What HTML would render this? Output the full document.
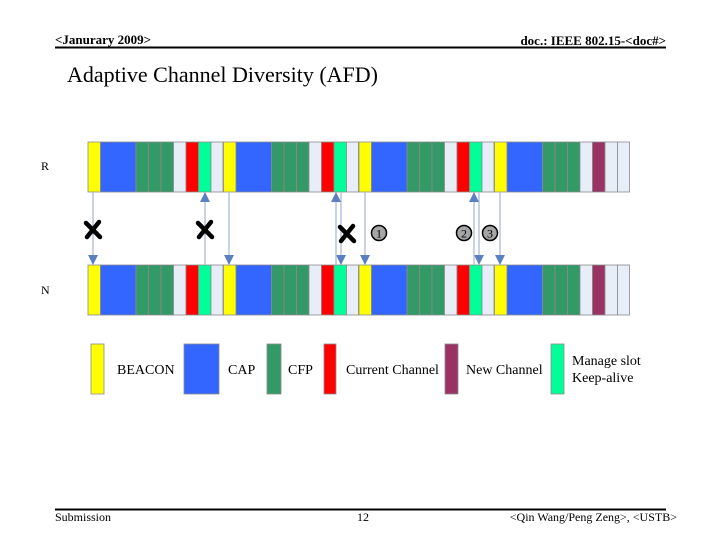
<!DOCTYPE html>
<html><head><meta charset="utf-8"><style>
html,body{margin:0;padding:0;background:#fff;}
svg{display:block;font-family:"Liberation Serif",serif;}
</style></head><body>
<svg width="720" height="540" viewBox="0 0 720 540">
<text x="55" y="44" font-size="13" font-weight="bold">&lt;Janurary 2009&gt;</text>
<text x="666" y="45" font-size="13" font-weight="bold" text-anchor="end">doc.: IEEE 802.15-&lt;doc#&gt;</text>
<rect x="55" y="46.5" width="611" height="2" fill="#000"/>
<text x="67" y="82" font-size="22">Adaptive Channel Diversity (AFD)</text>
<text x="41" y="170" font-size="12">R</text>
<text x="41" y="294" font-size="12">N</text>
<g id="frames"></g>
<g id="arrows"></g>
<g id="legend"></g>
<rect x="55" y="508.5" width="611" height="2" fill="#000"/>
<text x="55" y="521" font-size="12">Submission</text>
<text x="363" y="521" font-size="12" text-anchor="middle">12</text>
<text x="677" y="521" font-size="12" text-anchor="end">&lt;Qin Wang/Peng Zeng&gt;, &lt;USTB&gt;</text>
</svg>
<script>
const NS='http://www.w3.org/2000/svg';
const colors={Y:'#ffff00',B:'#3366ff',G:'#339966',L:'#e8eef8',R:'#ff0000',M:'#00ff99',P:'#993366'};
const normalFrame=['Y','B','G','G','G','L','R','M','L'];
const lastFrame=['Y','B','G','G','G','L','P','L','L'];
const slotWidths=[12.5,35.5,12.5,12.5,12.5,12.5,12.5,12.5,12];
const frameStarts=[88,223.5,359,494.5];
const rows=[{name:'r',y:142,h:50},{name:'n',y:265,h:50}];
const downArrows=[93,229,341,365,479,500];
const upArrows=[205,336,474];
const crosses=[[93,229],[205,229],[347,233]];
const badges=[['1',379,233],['2',464,233],['3',490,233]];
const legendItems=[['Y',91,13,['BEACON'],117],['B',184,35,['CAP'],228],['G',267,14,['CFP'],288],['R',324,12,['Current Channel'],346],['P',445,13,['New Channel'],466],['M',551,13,['Manage slot','Keep-alive'],572]];
function mk(t,a,p){const e=document.createElementNS(NS,t);for(const k in a)e.setAttribute(k,a[k]);p.appendChild(e);return e;}
const fg=document.getElementById('frames');
rows.forEach(row=>{
  frameStarts.forEach((fx,fi)=>{
    const pat=fi===frameStarts.length-1?lastFrame:normalFrame;
    let x=fx;
    pat.forEach((c,i)=>{
      const r=mk('rect',{x:x,y:row.y,width:slotWidths[i],height:row.h,fill:colors[c],stroke:'#8a8a8a','stroke-width':0.8},fg);
      
      
      x+=slotWidths[i];
    });
  });
});
const ag=document.getElementById('arrows');
const topY=rows[0].y+rows[0].h, botY=rows[1].y;
downArrows.forEach(x=>{
  const l=mk('line',{x1:x,y1:topY,x2:x,y2:botY-9,stroke:'#a9bcdc','stroke-width':1.3},ag);
  
  
  const p=mk('polygon',{points:`${x-5},${botY-10} ${x+5},${botY-10} ${x},${botY}`,fill:'#5a80c0'},ag);
  
  
});
upArrows.forEach(x=>{
  const l=mk('line',{x1:x,y1:botY,x2:x,y2:topY+9,stroke:'#a9bcdc','stroke-width':1.3},ag);
  
  
  const p=mk('polygon',{points:`${x-5},${topY+10} ${x+5},${topY+10} ${x},${topY}`,fill:'#5a80c0'},ag);
  
  
});
crosses.forEach(([x,y])=>{
  const g=mk('g',{stroke:'#000','stroke-width':4.5,'stroke-linecap':'round'},ag);
  
  
  mk('line',{x1:x-7,y1:y-6,x2:x+7,y2:y+8},g);
  mk('line',{x1:x+6,y1:y-7,x2:x-6,y2:y+8},g);
});
badges.forEach(([t,x,y])=>{
  const c=mk('circle',{cx:x,cy:y,r:7.5,fill:'#a6a6a6',stroke:'#000','stroke-width':1.5},ag);
  
  
  const tx=mk('text',{x:x,y:y+4.5,'font-size':12,'text-anchor':'middle'},ag);
  tx.textContent=t;
  
  
});
const lg=document.getElementById('legend');
legendItems.forEach(([c,x,w,lines,tx])=>{
  const r=mk('rect',{x:x,y:344,width:w,height:50,fill:colors[c],stroke:'#8a8a8a','stroke-width':0.8},lg);
  
  
  lines.forEach((s,i)=>{
    const y=lines.length===1?374:365+i*17;
    const t=mk('text',{x:tx,y:y,'font-size':14},lg);
    t.textContent=s;
    
    
  });
});
</script>
</body></html>
